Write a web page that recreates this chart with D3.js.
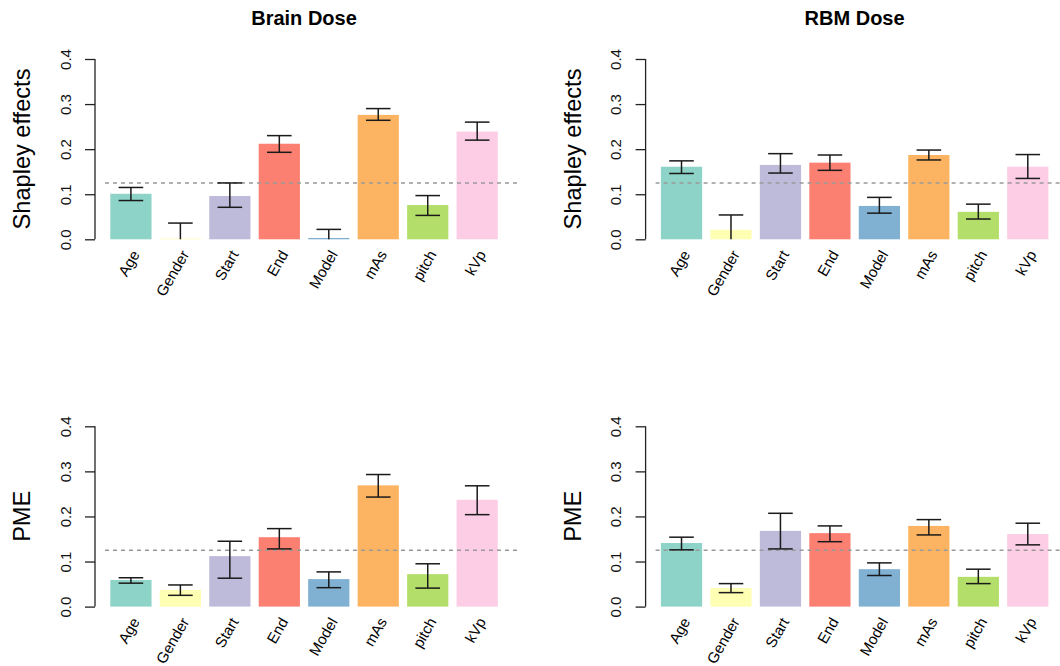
<!DOCTYPE html>
<html>
<head>
<meta charset="utf-8">
<script src="https://cdn.jsdelivr.net/npm/d3@7"></script>
<style>
  body { margin: 0; background: #fff; }
  text { font-family: "Liberation Sans", Arial, sans-serif; }
</style>
</head>
<body>
<svg width="1060" height="666"></svg>
<script>
const svg = d3.select('svg');

// data
const categories = ['Age', 'Gender', 'Start', 'End', 'Model', 'mAs', 'pitch', 'kVp'];
const barColors = ['#8DD3C7', '#FFFFB3', '#BEBADA', '#FB8072', '#80B1D3', '#FDB462', '#B3DE69', '#FCCDE5'];
const yTicks = [0, 0.1, 0.2, 0.3, 0.4];
const refValue = 0.125;

const brainShapley   = [0.101, 0.0015, 0.096, 0.212, 0.003, 0.276, 0.076, 0.239];
const brainShapleyLo = [0.086, -0.03, 0.071, 0.193, -0.02, 0.264, 0.053, 0.220];
const brainShapleyHi = [0.115, 0.036, 0.125, 0.230, 0.022, 0.290, 0.097, 0.260];

const rbmShapley   = [0.161, 0.021, 0.165, 0.170, 0.074, 0.187, 0.061, 0.161];
const rbmShapleyLo = [0.146, -0.01, 0.147, 0.153, 0.058, 0.176, 0.045, 0.135];
const rbmShapleyHi = [0.174, 0.054, 0.190, 0.187, 0.093, 0.198, 0.078, 0.188];

const brainPme   = [0.059, 0.037, 0.112, 0.154, 0.061, 0.269, 0.072, 0.237];
const brainPmeLo = [0.052, 0.025, 0.063, 0.128, 0.042, 0.243, 0.041, 0.204];
const brainPmeHi = [0.064, 0.048, 0.145, 0.173, 0.077, 0.293, 0.095, 0.268];

const rbmPme   = [0.141, 0.041, 0.168, 0.163, 0.083, 0.179, 0.066, 0.161];
const rbmPmeLo = [0.126, 0.031, 0.128, 0.144, 0.069, 0.159, 0.051, 0.137];
const rbmPmeHi = [0.154, 0.051, 0.207, 0.179, 0.097, 0.193, 0.083, 0.185];

const panels = [
  { dx: 0,     dy: 0,     title: 'Brain Dose', ylab: 'Shapley effects', v: brainShapley, lo: brainShapleyLo, hi: brainShapleyHi },
  { dx: 550.6, dy: 0,     title: 'RBM Dose',   ylab: 'Shapley effects', v: rbmShapley,   lo: rbmShapleyLo,   hi: rbmShapleyHi },
  { dx: 0,     dy: 367.3, title: '',           ylab: 'PME',             v: brainPme,     lo: brainPmeLo,     hi: brainPmeHi },
  { dx: 550.6, dy: 367.3, title: '',           ylab: 'PME',             v: rbmPme,       lo: rbmPmeLo,       hi: rbmPmeHi }
];

// same scales for every panel, panels just get translated
const x = d3.scaleBand()
  .domain(categories)
  .range([110.3, 497.8])
  .paddingInner(1 / 6)
  .paddingOuter(0);
const y = d3.scaleLinear().domain([0, 0.4]).range([239.3, 59]);
const color = d3.scaleOrdinal().domain(categories).range(barColors);

const capHalf = 12.3;

panels.forEach(p => {
  const g = svg.append('g').attr('transform', `translate(${p.dx},${p.dy})`);

  // title
  if (p.title) {
    g.append('text')
      .attr('x', 304)
      .attr('y', 25)
      .attr('text-anchor', 'middle')
      .attr('font-size', 20)
      .attr('font-weight', 'bold')
      .text(p.title);
  }

  // y label
  g.append('text')
    .attr('transform', `translate(30,149) rotate(-90)`)
    .attr('text-anchor', 'middle')
    .attr('font-size', 23.6)
    .text(p.ylab);

  // bars
  g.selectAll('rect.bar')
    .data(categories)
    .join('rect')
    .attr('class', 'bar')
    .attr('x', d => x(d))
    .attr('width', x.bandwidth())
    .attr('y', (d, i) => y(p.v[i]))
    .attr('height', (d, i) => y(0) - y(p.v[i]))
    .attr('fill', d => color(d));

  // dashed reference line
  g.append('line')
    .attr('x1', 105).attr('x2', 518)
    .attr('y1', y(refValue)).attr('y2', y(refValue))
    .attr('stroke', '#999')
    .attr('stroke-width', 1.4)
    .attr('stroke-dasharray', '4,4');

  // error bars, clipped at zero like the original
  const eb = g.selectAll('g.err')
    .data(categories)
    .join('g')
    .attr('class', 'err')
    .attr('stroke', '#1a1a1a')
    .attr('stroke-width', 1.5);
  const cx = d => x(d) + x.bandwidth() / 2;
  eb.append('line')
    .attr('x1', cx).attr('x2', cx)
    .attr('y1', (d, i) => y(p.hi[i]))
    .attr('y2', (d, i) => y(Math.max(0, p.lo[i])));
  eb.append('line')
    .attr('x1', d => cx(d) - capHalf).attr('x2', d => cx(d) + capHalf)
    .attr('y1', (d, i) => y(p.hi[i])).attr('y2', (d, i) => y(p.hi[i]));
  eb.filter(d => p.lo[categories.indexOf(d)] >= 0)
    .append('line')
    .attr('x1', d => cx(d) - capHalf).attr('x2', d => cx(d) + capHalf)
    .attr('y1', d => y(p.lo[categories.indexOf(d)]))
    .attr('y2', d => y(p.lo[categories.indexOf(d)]));

  // y axis
  const ax = g.append('g')
    .attr('transform', 'translate(95,0)')
    .call(d3.axisLeft(y).tickValues(yTicks).tickSize(10).tickFormat(d3.format('.1f')));
  ax.select('.domain').attr('d', `M0,${y(0)}V${y(0.4)}`).attr('stroke', '#222').attr('stroke-width', 1.3);
  ax.selectAll('.tick line').attr('stroke', '#222').attr('stroke-width', 1.3);
  ax.selectAll('.tick text')
    .attr('x', null).attr('dy', null)
    .attr('transform', 'translate(-30,0) rotate(-90)')
    .attr('text-anchor', 'middle')
    .attr('dominant-baseline', 'central')
    .attr('fill', '#111')
    .attr('font-size', 15);

  // rotated category labels
  g.selectAll('text.cat')
    .data(categories)
    .join('text')
    .attr('class', 'cat')
    .attr('transform', d => `translate(${cx(d) + 4.5},${251.5}) rotate(-60)`)
    .attr('text-anchor', 'end')
    .attr('dominant-baseline', 'central')
    .attr('font-size', 15)
    .text(d => d);
});
</script>
</body>
</html>
